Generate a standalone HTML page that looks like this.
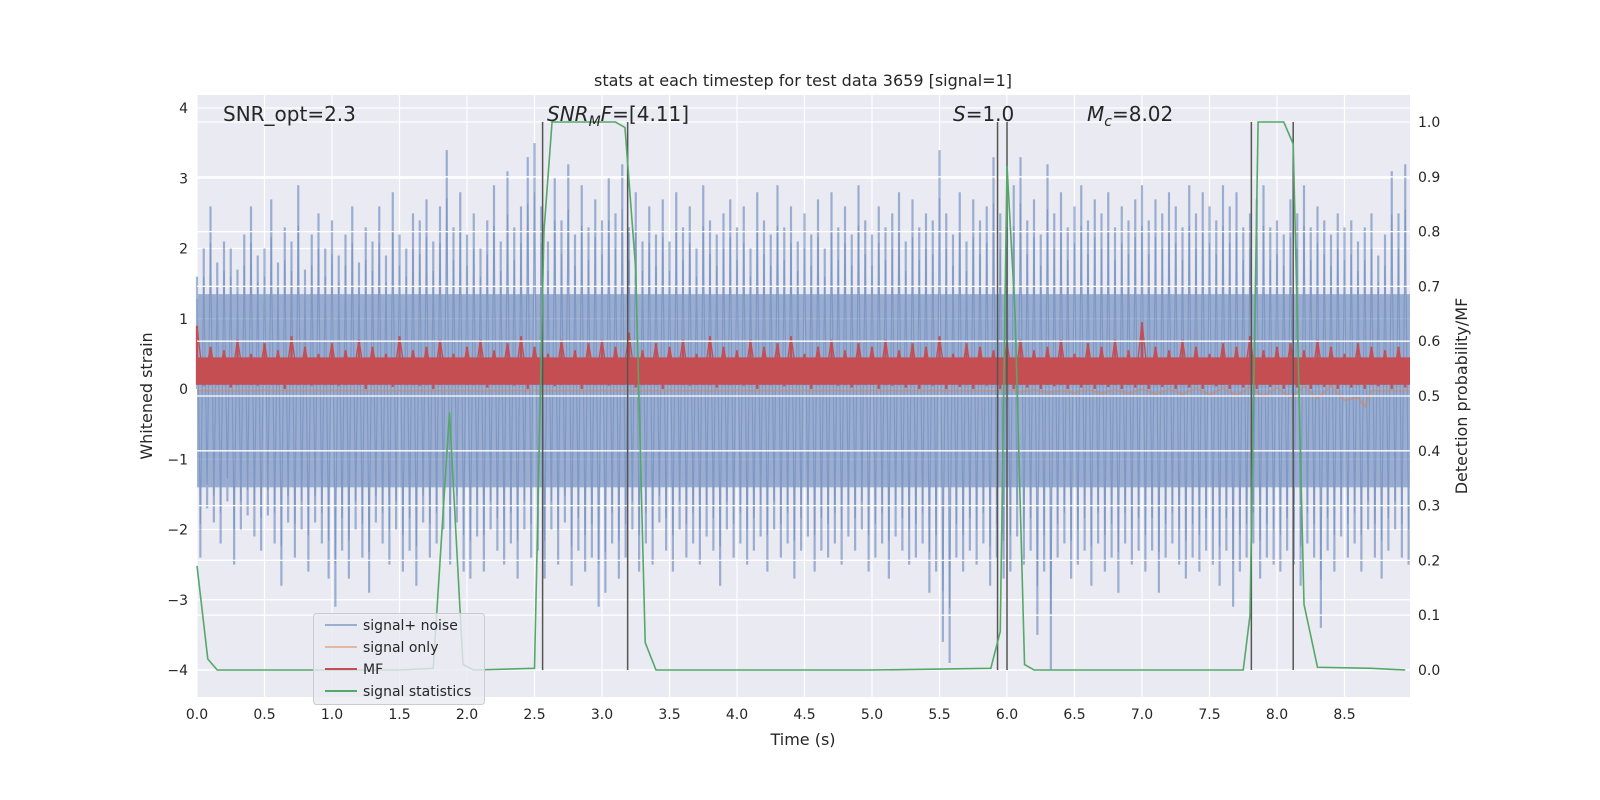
<!DOCTYPE html>
<html><head><meta charset="utf-8"><style>
html,body{margin:0;padding:0;width:1600px;height:800px;overflow:hidden;background:#fff;}
svg text{font-family:"DejaVu Sans","Liberation Sans",sans-serif;fill:#262626;}
</style></head><body>
<svg id="chart" width="1600" height="800" style="position:absolute;left:0;top:0" xmlns="http://www.w3.org/2000/svg"></svg>
<script>
const noise=[1.6,-2.4,2.0,-1.7,2.6,-1.9,1.8,-2.2,2.1,-1.6,2.0,-2.5,1.7,-2.0,2.2,-1.8,2.6,-2.1,1.9,-2.3,
2.0,-1.8,2.7,-2.2,1.8,-2.8,2.3,-1.9,2.1,-2.4,2.9,-2.0,1.7,-2.6,2.2,-1.9,2.5,-2.2,2.0,-2.7,
2.4,-3.1,1.9,-2.3,2.2,-2.7,2.6,-2.0,1.8,-2.4,2.3,-2.9,2.1,-1.9,2.6,-2.2,1.9,-2.5,2.8,-2.0,
2.2,-2.6,2.0,-2.3,2.5,-2.8,2.4,-1.9,2.7,-2.4,2.1,-2.2,2.6,-2.0,3.4,-2.5,2.3,-1.9,2.8,-2.6,
2.2,-2.7,2.5,-2.1,2.0,-2.6,2.4,-2.0,2.9,-2.3,2.1,-2.5,3.1,-2.2,2.3,-2.7,2.6,-2.0,3.3,-2.4,
3.5,-2.3,2.6,-2.7,2.1,-2.0,3.0,-2.5,2.4,-1.9,3.2,-2.8,2.2,-2.3,2.9,-2.6,2.3,-2.4,2.7,-3.1,
2.4,-2.9,3.0,-2.2,2.5,-2.7,3.2,-2.4,2.3,-2.0,2.8,-2.6,2.1,-2.2,2.6,-2.5,2.2,-1.9,2.7,-2.3,
2.1,-2.6,2.8,-2.0,2.3,-2.4,2.6,-2.2,2.0,-2.5,2.9,-2.1,2.4,-2.3,2.2,-2.8,2.5,-2.0,2.7,-2.4,
2.3,-2.2,2.6,-2.5,2.0,-2.3,2.8,-2.1,2.4,-2.6,2.2,-2.0,2.9,-2.4,2.3,-2.2,2.6,-2.7,2.1,-2.3,
2.5,-2.1,2.2,-2.6,2.7,-2.3,2.0,-2.4,2.8,-2.2,2.3,-2.5,2.6,-2.1,2.2,-2.3,2.9,-2.0,2.4,-2.6,
2.2,-2.4,2.6,-2.2,2.3,-2.7,2.5,-2.1,2.8,-2.3,2.1,-2.5,2.7,-2.4,2.3,-2.2,2.5,-2.9,2.4,-2.6,
3.4,-3.6,2.5,-3.9,2.2,-2.4,2.8,-2.6,2.1,-2.3,2.7,-2.5,2.4,-2.2,2.6,-2.8,3.3,-2.4,2.5,-2.7,
2.3,-2.6,2.9,-2.1,3.3,-2.5,2.4,-2.3,2.7,-3.5,2.2,-2.6,3.2,-4.0,2.5,-2.4,2.8,-2.2,2.3,-2.7,
2.6,-2.5,2.9,-2.3,2.4,-2.8,2.7,-2.2,2.5,-2.6,2.8,-2.4,2.3,-2.9,2.6,-2.2,2.4,-2.5,2.7,-2.3,
2.9,-2.6,2.4,-2.3,2.7,-2.9,2.5,-2.4,2.8,-2.2,2.6,-2.5,2.3,-2.7,2.9,-2.4,2.5,-2.6,2.8,-2.3,
2.6,-2.5,2.4,-2.8,2.9,-2.3,2.6,-3.1,2.8,-2.6,2.3,-2.4,2.5,-2.2,2.7,-2.7,2.9,-2.4,2.3,-2.5,
2.4,-2.6,2.2,-2.3,2.7,-2.5,2.5,-2.8,2.9,-2.2,2.3,-2.4,2.6,-3.4,2.4,-2.3,2.2,-2.6,2.5,-2.1,
2.3,-2.4,2.4,-2.2,2.1,-2.6,2.3,-2.0,2.5,-2.4,1.9,-2.7,2.2,-2.3,3.1,-2.0,2.5,-2.4,3.2,-2.5];
const mf=[0.9,0.05,0.6,0.1,0.55,0.02,0.7,0.1,0.5,0.05,0.65,0.08,0.55,0.0,0.75,0.1,0.6,0.05,0.5,0.12,
0.65,0.05,0.55,0.1,0.7,0.0,0.6,0.08,0.5,0.03,0.75,0.1,0.55,0.05,0.6,0.0,0.7,0.1,0.5,0.06,
0.6,0.08,0.7,0.02,0.55,0.1,0.65,0.05,0.75,0.0,0.6,0.1,0.5,0.04,0.7,0.08,0.55,0.0,0.65,0.1,
0.7,0.05,0.6,0.1,0.8,0.02,0.55,0.08,0.65,0.0,0.6,0.1,0.7,0.05,0.5,0.08,0.75,0.02,0.6,0.1,
0.55,0.05,0.7,0.0,0.6,0.1,0.65,0.04,0.75,0.08,0.5,0.0,0.6,0.1,0.7,0.05,0.55,0.02,0.65,0.08,
0.6,0.0,0.7,0.05,0.55,0.02,0.65,0.0,0.6,0.05,0.75,0.0,0.5,0.03,0.65,0.0,0.6,0.05,0.55,0.0,
0.65,0.0,0.7,0.02,0.55,0.0,0.6,0.04,0.7,0.0,0.5,0.02,0.65,0.0,0.6,0.03,0.7,0.0,0.55,0.02,
0.95,0.0,0.6,0.03,0.55,0.0,0.7,0.02,0.6,0.0,0.5,0.04,0.65,0.0,0.6,0.02,0.75,0.0,0.55,0.03,
0.6,0.0,0.65,0.02,0.55,0.0,0.7,0.03,0.6,0.0,0.5,0.02,0.65,0.0,0.6,0.04,0.55,0.0,0.6,0.02];
const sigT=[0,5.8,5.9,6.0,6.1,6.2,6.3,6.4,6.5,6.6,6.7,6.8,6.9,7.0,7.1,7.2,7.3,7.4,7.5,7.6,7.7,7.8,7.9,8.0,8.1,8.2,8.3,8.4,8.5,8.6,8.65,8.7,8.98];
const sigV=[-0.02,-0.02,-0.03,0.0,-0.04,-0.01,-0.05,-0.02,-0.05,-0.01,-0.06,-0.01,-0.06,0.0,-0.07,0.0,-0.07,0.01,-0.08,0.01,-0.09,0.02,-0.1,0.02,-0.12,0.03,-0.13,0.04,-0.16,-0.12,-0.25,-0.02,-0.02];
const statT=[0,0.08,0.15,0.5,1.0,1.5,1.75,1.87,1.97,2.05,2.5,2.57,2.63,3.1,3.17,3.25,3.32,3.4,4.0,5.0,5.88,5.95,6.0,6.06,6.13,6.2,7.0,7.75,7.8,7.86,8.05,8.12,8.2,8.3,8.7,8.95];
const statV=[0.19,0.02,0.0,0.0,0.0,0.0,0.003,0.47,0.01,0.0,0.003,0.8,1.0,1.0,0.99,0.73,0.05,0.0,0.0,0.0,0.003,0.07,0.92,0.65,0.01,0.0,0.0,0.0,0.1,1.0,1.0,0.96,0.12,0.005,0.003,0.0];
const vlines=[2.56,3.19,5.93,6.0,7.81,8.12];
const xTicks=[0,0.5,1,1.5,2,2.5,3,3.5,4,4.5,5,5.5,6,6.5,7,7.5,8,8.5];
const yTicks=[-4,-3,-2,-1,0,1,2,3,4];
const y2Ticks=[0,0.1,0.2,0.3,0.4,0.5,0.6,0.7,0.8,0.9,1.0];

const NS='http://www.w3.org/2000/svg',svg=document.getElementById('chart');
const L=197,R=1410,T=95,B=697;
const X=t=>L+t*135, Y=v=>389-v*70.25, Y2=p=>670-p*548;
function el(tag,a,txt){const e=document.createElementNS(NS,tag);for(const k in a)e.setAttribute(k,a[k]);if(txt!==undefined)e.textContent=txt;svg.appendChild(e);return e;}
let e=el('rect',{x:L,y:T,width:R-L,height:B-T,fill:'#eaeaf2'});

xTicks.forEach(t=>{let g=el('line',{x1:X(t),x2:X(t),y1:T,y2:B,stroke:'#fff','stroke-width':1.2});
 let tx=el('text',{x:X(t),y:B+22,'font-size':14,'text-anchor':'middle'},t.toFixed(1));});
yTicks.forEach(v=>{let g=el('line',{x1:L,x2:R,y1:Y(v),y2:Y(v),stroke:'#fff','stroke-width':1.2});
 let tx=el('text',{x:L-9,y:Y(v)+5,'font-size':14,'text-anchor':'end'},v<0?'\u2212'+(-v):String(v));});
// noise
const gN=el('g',{opacity:0.5});

let band=document.createElementNS(NS,'rect');
band.setAttribute('x',L);band.setAttribute('y',Y(1.35));band.setAttribute('width',R-L);band.setAttribute('height',Y(-1.4)-Y(1.35));band.setAttribute('fill','#4c72b0');


gN.appendChild(band);
const dt=9/noise.length;
noise.forEach((v,i)=>{const l=document.createElementNS(NS,'line');
 l.setAttribute('x1',X(i*dt));l.setAttribute('x2',X(i*dt));l.setAttribute('y1',Y(0));l.setAttribute('y2',Y(v));
 l.setAttribute('stroke','#4c72b0');l.setAttribute('stroke-width',2.2);
 
 
 gN.appendChild(l);});
let p=el('polyline',{points:noise.map((v,i)=>X(i*dt)+','+Y(v*0.8)).join(' '),fill:'none',stroke:'#4c72b0','stroke-width':1.2,'stroke-opacity':0.35});

// signal only
p=el('polyline',{points:sigT.map((t,i)=>X(t)+','+Y(sigV[i])).join(' '),fill:'none',stroke:'#dd8452','stroke-width':2,'stroke-opacity':0.5});

// MF
e=el('rect',{x:L,y:Y(0.45),width:R-L,height:Y(0.06)-Y(0.45),fill:'#c44e52'});

const dm=9/mf.length;
mf.forEach((v,i)=>{let l=el('line',{x1:X(i*dm),x2:X(i*dm),y1:Y(0.06),y2:Y(v),stroke:'#c44e52','stroke-width':2.2});
 });
p=el('polyline',{points:mf.map((v,i)=>X(i*dm)+','+Y(Math.max(v,0.05))).join(' '),fill:'none',stroke:'#c44e52','stroke-width':1.3});

// right-axis grid on top
y2Ticks.forEach(q=>{let g=el('line',{x1:L,x2:R,y1:Y2(q),y2:Y2(q),stroke:'#fff','stroke-width':1.3});
 let tx=el('text',{x:R+8,y:Y2(q)+5,'font-size':14},q.toFixed(1));});
vlines.forEach(t=>{let l=el('line',{x1:X(t),x2:X(t),y1:Y2(1),y2:Y2(0),stroke:'#555','stroke-width':1.5});});
p=el('polyline',{points:statT.map((t,i)=>X(t)+','+Y2(statV[i])).join(' '),fill:'none',stroke:'#55a868','stroke-width':1.6});

</script>
<svg width="1600" height="800" style="position:absolute;left:0;top:0" xmlns="http://www.w3.org/2000/svg">
<text x="803" y="86" font-size="16" text-anchor="middle">stats at each timestep for test data 3659 [signal=1]</text>
<text x="803" y="745" font-size="16" text-anchor="middle">Time (s)</text>
<text transform="translate(152,396) rotate(-90)" font-size="16" text-anchor="middle">Whitened strain</text>
<text transform="translate(1467,396) rotate(-90)" font-size="16" text-anchor="middle">Detection probability/MF</text>
<text x="223" y="121" font-size="20">SNR_opt=2.3</text>
<text x="547" y="121" font-size="20"><tspan font-style="italic">SNR</tspan><tspan font-style="italic" font-size="14" dy="5">M</tspan><tspan font-style="italic" dy="-5">F</tspan>=[4.11]</text>
<text x="953" y="121" font-size="20"><tspan font-style="italic">S</tspan>=1.0</text>
<text x="1087" y="121" font-size="20"><tspan font-style="italic">M</tspan><tspan font-style="italic" font-size="14" dy="5">c</tspan><tspan dy="-5">=8.02</tspan></text>
<g>
<rect x="313.5" y="613.5" width="171" height="91" rx="3" fill="#eaeaf2" fill-opacity="0.8" stroke="#ccc"/>
<line x1="325" x2="357" y1="625" y2="625" stroke="#4c72b0" stroke-opacity="0.5" stroke-width="2"/>
<text x="363" y="630" font-size="14">signal+ noise</text>
<line x1="325" x2="357" y1="647" y2="647" stroke="#dd8452" stroke-opacity="0.5" stroke-width="2"/>
<text x="363" y="652" font-size="14">signal only</text>
<line x1="325" x2="357" y1="669" y2="669" stroke="#c44e52" stroke-width="2"/>
<text x="363" y="674" font-size="14">MF</text>
<line x1="325" x2="357" y1="691" y2="691" stroke="#55a868" stroke-width="2"/>
<text x="363" y="696" font-size="14">signal statistics</text>
</g>
</svg>
</body></html>
